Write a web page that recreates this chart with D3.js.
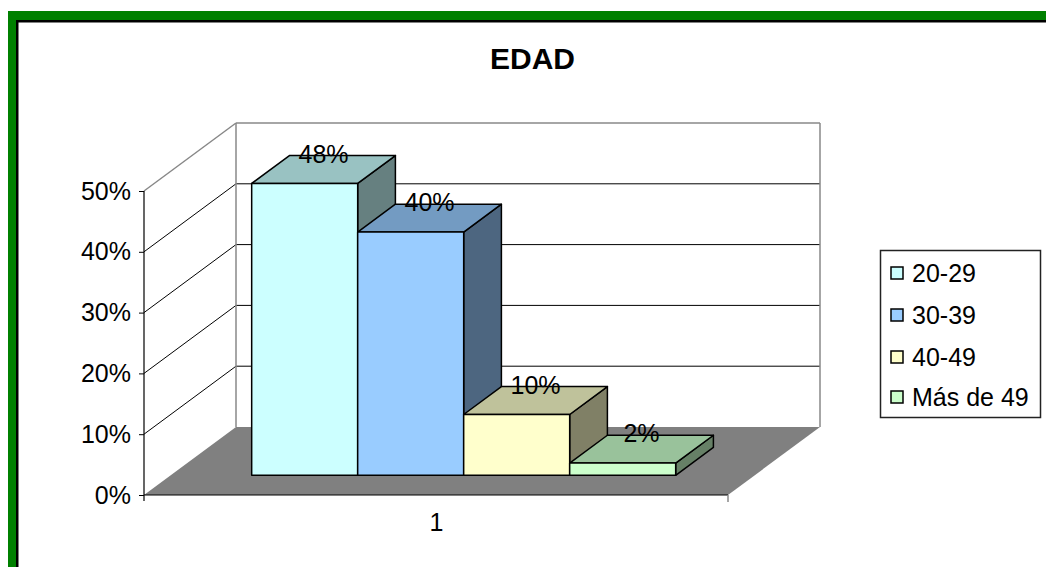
<!DOCTYPE html>
<html><head><meta charset="utf-8">
<script src="https://cdn.jsdelivr.net/npm/d3@7"></script>
<style>body{margin:0;background:#fff}svg{display:block}text{font-family:"Liberation Sans",Arial,sans-serif}</style>
</head><body>
<svg id="c" width="1046" height="567"></svg>
<script>
const title = "EDAD";
const categories = ["1"];
const series = ["20-29", "30-39", "40-49", "Más de 49"];
const values = [0.48, 0.40, 0.10, 0.02];
const valueLabels = ["48%", "40%", "10%", "2%"];
const yTicks = [0, 0.1, 0.2, 0.3, 0.4, 0.5];
const colors = ["#CCFFFF", "#99CCFF", "#FFFFCC", "#CCFFCC"];

const FS = 25;
const svg = d3.select("#c");
// frame
svg.append("rect").attr("x",8).attr("y",11).attr("width",1100).attr("height",600).attr("fill","#008000");
svg.append("rect").attr("x",16).attr("y",20).attr("width",1100).attr("height",600).attr("fill","#000");
svg.append("rect").attr("x",18.5).attr("y",22.5).attr("width",1100).attr("height",600).attr("fill","#fff");

svg.append("text").attr("x",532.5).attr("y",68.5).attr("text-anchor","middle")
  .attr("font-size",30).attr("font-weight","bold").text(title);

const y = d3.scaleLinear().domain([0,0.5]).range([495,191]);
const x0 = d3.scaleBand().domain(categories).range([144,728]);
const xs = d3.scaleBand().domain(series).range([x0(categories[0])+81, x0(categories[0])+x0.bandwidth()-79]);
const DX = 92, DY = -68;
const p = (x, yy, d) => [x + d*DX, yy + d*DY];
const poly = pts => "M" + pts.map(q => q.join(",")).join("L") + "Z";

const g = svg.append("g");
const xl = x0.range()[0], xr = x0.range()[1];
// floor
g.append("path").attr("d", poly([p(xl,y(0),0), p(xl,y(0),1), p(xr,y(0),1), p(xr,y(0),0)])).attr("fill","#808080");
// side wall gridlines
yTicks.forEach(t => {
  if (t === 0) return;
  const a = p(xl,y(t),0), b = p(xl,y(t),1), c = p(xr,y(t),1);
  const col = t === 0.5 ? "#888" : "#000";
  const w = t === 0.5 ? 1.5 : 1;
  g.append("line").attr("x1",a[0]).attr("y1",a[1]).attr("x2",b[0]).attr("y2",b[1]).attr("stroke",col).attr("stroke-width",w);
  g.append("line").attr("x1",b[0]).attr("y1",b[1]).attr("x2",c[0]).attr("y2",c[1]).attr("stroke",col).attr("stroke-width",w);
});
// wall vertical edges
[[xl],[xr]].forEach(([xx]) => {
  const a = p(xx,y(0),1), b = p(xx,y(0.5),1);
  g.append("line").attr("x1",a[0]).attr("y1",a[1]).attr("x2",b[0]).attr("y2",b[1]).attr("stroke","#888").attr("stroke-width",1.5);
});
// y axis
const ax = svg.append("g").attr("transform",`translate(${xl},0)`)
  .call(d3.axisLeft(y).tickValues(yTicks).tickFormat(d3.format(".0%")).tickSize(5).tickPadding(8));
ax.select(".domain").attr("stroke","#000").attr("stroke-width",1.2).attr("d",`M-0,${y(0.5)}V${y(0)+6}`);
ax.selectAll("text").attr("font-size",FS).attr("font-family","Liberation Sans, Arial, sans-serif").attr("fill","#000");
ax.selectAll("line").attr("stroke","#000");
// x axis
svg.append("line").attr("x1",xl).attr("y1",y(0)).attr("x2",xr).attr("y2",y(0)).attr("stroke","#000").attr("stroke-width",1.2);
svg.append("line").attr("x1",xr).attr("y1",y(0)).attr("x2",xr).attr("y2",y(0)+7).attr("stroke","#888").attr("stroke-width",1.5);
categories.forEach(c => {
  svg.append("text").attr("x",x0(c)+x0.bandwidth()/2+0.5).attr("y",531).attr("text-anchor","middle").attr("font-size",FS).text(c);
});

// bars
const D1 = 0.29, D2 = 0.70;
const bars = svg.append("g");
series.forEach((s,i) => {
  const c = d3.color(colors[i]);
  const xa = xs(s), xb = xs(s)+xs.bandwidth();
  const y0 = y(0), y1 = y(values[i]);
  const side = d3.rgb(c.r*0.5,c.g*0.5,c.b*0.5).formatHex();
  const topc = d3.rgb(c.r*0.75,c.g*0.76,c.b*0.76).formatHex();
  const st = {stroke:"#000","stroke-width":1.5,"stroke-linejoin":"round"};
  const add = (d, f) => { const e = bars.append("path").attr("d",d).attr("fill",f); Object.entries(st).forEach(([k,v])=>e.attr(k,v)); };
  add(poly([p(xb,y0,D1), p(xb,y0,D2), p(xb,y1,D2), p(xb,y1,D1)]), side);
  add(poly([p(xa,y1,D1), p(xb,y1,D1), p(xb,y1,D2), p(xa,y1,D2)]), topc);
  add(poly([p(xa,y0,D1), p(xb,y0,D1), p(xb,y1,D1), p(xa,y1,D1)]), colors[i]);
});
series.forEach((s,i) => {
  const xm = xs(s)+xs.bandwidth()/2;
  const q = p(xm, y(values[i]), (D1+D2)/2);
  const back = p(xm, y(values[i]), D2);
  svg.append("text").attr("x",q[0]).attr("y",back[1]+7).attr("text-anchor","middle").attr("font-size",FS).text(valueLabels[i]);
});

// legend
const lg = svg.append("g");
lg.append("rect").attr("x",880.5).attr("y",250.5).attr("width",160).attr("height",167).attr("fill","#fff").attr("stroke","#222").attr("stroke-width",1.5);
const rows = [273, 315, 357, 397];
series.forEach((s,i) => {
  lg.append("rect").attr("x",891).attr("y",rows[i]-6).attr("width",12).attr("height",12).attr("fill",colors[i]).attr("stroke","#000").attr("stroke-width",1.5);
  lg.append("text").attr("x",912).attr("y",rows[i]+9).attr("font-size",FS).text(s);
});
</script>
</body></html>
